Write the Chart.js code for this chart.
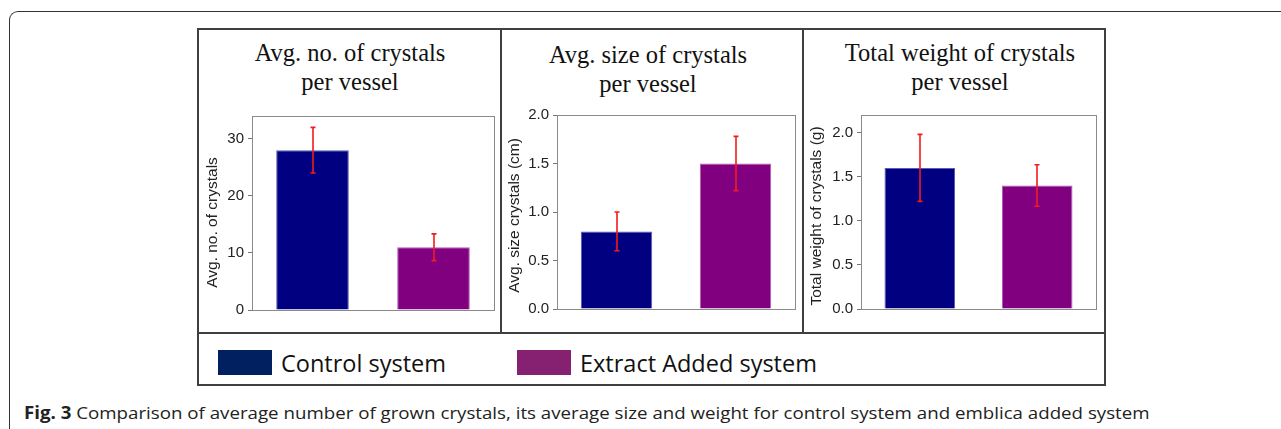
<!DOCTYPE html>
<html>
<head>
<meta charset="utf-8">
<script src="https://cdn.jsdelivr.net/npm/chart.js@4.4.1/dist/chart.umd.min.js"></script>
<style>
  html, body { margin: 0; padding: 0; background: #fff; }
  body { width: 1281px; height: 429px; position: relative; overflow: hidden; }
  .frame { position: absolute; left: 9px; top: 11px; width: 1400px; height: 500px;
           border-left: 1.5px solid #333; border-top: 1.5px solid #333; border-top-left-radius: 9px; }
  .line { position: absolute; background: #3f3f3f; }
  .ptitle { position: absolute; width: 320px; text-align: center; font-family: "Liberation Serif", "Times New Roman", serif;
            font-size: 24.5px; line-height: 29px; color: #111; }
  .legend-item { position: absolute; font-family: "Open Sans", sans-serif; font-size: 23.5px; color: #111; white-space: nowrap; }
  .swatch { position: absolute; width: 54px; height: 25px; }
  .caption { position: absolute; left: 24px; top: 404px; font-family: "Open Sans", sans-serif; font-size: 17px;
             line-height: 17px; color: #222; white-space: nowrap; transform: scaleX(1.1); transform-origin: 0 0; }
  canvas { position: absolute; }
</style>
</head>
<body>
<div class="frame"></div>

<!-- figure box -->
<div class="line" style="left:197px; top:28px; width:909px; height:2px;"></div>
<div class="line" style="left:197px; top:332px; width:909px; height:2px;"></div>
<div class="line" style="left:197px; top:384px; width:909px; height:2px;"></div>
<div class="line" style="left:197px; top:28px; width:2px; height:358px;"></div>
<div class="line" style="left:500px; top:28px; width:2px; height:305px;"></div>
<div class="line" style="left:802px; top:28px; width:2px; height:305px;"></div>
<div class="line" style="left:1104px; top:28px; width:2px; height:358px;"></div>

<div class="ptitle" style="left:190px; top:38px;">Avg. no. of crystals<br>per vessel</div>
<div class="ptitle" style="left:488px; top:40px;">Avg. size of crystals<br>per vessel</div>
<div class="ptitle" style="left:800px; top:38px;">Total weight of crystals<br>per vessel</div>

<canvas id="c1" width="301" height="302" style="left:199px; top:30px;"></canvas>
<canvas id="c2" width="300" height="302" style="left:502px; top:30px;"></canvas>
<canvas id="c3" width="300" height="302" style="left:804px; top:30px;"></canvas>

<div id="legend"></div>

<div class="caption"><b>Fig. 3</b> Comparison of average number of grown crystals, its average size and weight for control system and emblica added system</div>

<script>
// Groups shown in every panel
const categories = ['Control system', 'Extract Added system'];

// Average number of crystals per vessel (mean, ± error)
const countMeans = [28, 11];
const countErrors = [4, 2.35];

// Average size of crystals per vessel, cm
const sizeMeans = [0.8, 1.5];
const sizeErrors = [0.2, 0.28];

// Total weight of crystals per vessel, g
const weightMeans = [1.6, 1.4];
const weightErrors = [0.38, 0.235];

// Axis tick labels
const countTicks = ['0', '10', '20', '30'];
const sizeTicks = ['0.0', '0.5', '1.0', '1.5', '2.0'];
const weightTicks = ['0.0', '0.5', '1.0', '1.5', '2.0'];

const barFill = ['#000080', '#800080'];
const barEdge = ['#5a5ab4', '#b45ab4'];
const legendFill = ['#002060', '#852170'];
const axisFont = '"Liberation Sans", Arial, sans-serif';

// Red error bars with small caps, placed through the value scale
const errorBars = {
  id: 'errorBars',
  afterDatasetsDraw(chart, args, opts) {
    const ctx = chart.ctx;
    const y = chart.scales.y;
    const meta = chart.getDatasetMeta(0);
    const means = chart.data.datasets[0].data;
    ctx.save();
    ctx.strokeStyle = '#f21c1c';
    ctx.lineWidth = 1.6;
    meta.data.forEach((bar, i) => {
      const top = y.getPixelForValue(means[i] + opts.errors[i]);
      const bot = y.getPixelForValue(means[i] - opts.errors[i]);
      const x = Math.round(bar.x);
      ctx.beginPath();
      ctx.moveTo(x, top); ctx.lineTo(x, bot);
      ctx.moveTo(x - 2.5, top); ctx.lineTo(x + 2.5, top);
      ctx.moveTo(x - 2.5, bot); ctx.lineTo(x + 2.5, bot);
      ctx.stroke();
    });
    ctx.restore();
  }
};

// Grey box round the plotting area
const plotBox = {
  id: 'plotBox',
  afterDraw(chart) {
    const a = chart.chartArea;
    const ctx = chart.ctx;
    ctx.save();
    ctx.strokeStyle = '#8a8a8a';
    ctx.lineWidth = 1;
    ctx.strokeRect(Math.round(a.left) + 0.5, Math.round(a.top) + 0.5,
                   Math.round(a.right - a.left), Math.round(a.bottom - a.top));
    ctx.restore();
  }
};

// Rotated value-axis caption, set a little below the middle of the plot
const axisCaption = {
  id: 'axisCaption',
  afterDraw(chart, args, opts) {
    const a = chart.chartArea;
    const ctx = chart.ctx;
    ctx.save();
    ctx.translate(opts.x, (a.top + a.bottom) / 2 + opts.shift);
    ctx.rotate(-Math.PI / 2);
    ctx.font = '15.5px ' + axisFont;
    ctx.fillStyle = '#222';
    ctx.textAlign = 'center';
    ctx.textBaseline = 'middle';
    ctx.fillText(opts.text, 0, 0);
    ctx.restore();
  }
};

function panel(id, means, errors, tickLabels, cfg) {
  new Chart(document.getElementById(id), {
    type: 'bar',
    data: {
      labels: categories,
      datasets: [{
        data: means,
        backgroundColor: barFill,
        borderColor: barEdge,
        borderWidth: 1,
        barPercentage: 0.6,
        categoryPercentage: 1
      }]
    },
    options: {
      responsive: false,
      animation: false,
      layout: { padding: cfg.padding },
      plugins: {
        legend: { display: false },
        tooltip: { enabled: false },
        errorBars: { errors: errors },
        axisCaption: { text: cfg.title, x: cfg.titleX, shift: cfg.titleShift }
      },
      scales: {
        x: { display: false },
        y: {
          min: 0,
          max: cfg.max,
          ticks: {
            stepSize: cfg.step,
            includeBounds: false,
            padding: 4,
            color: '#222',
            font: { family: axisFont, size: 15 },
            callback: (v, i) => tickLabels[i]
          },
          grid: { drawOnChartArea: false, drawTicks: true, tickLength: 4, color: '#777' },
          border: { display: false },
          afterFit(scale) { scale.width = cfg.axisWidth; }
        }
      }
    },
    plugins: [errorBars, plotBox, axisCaption]
  });
}

panel('c1', countMeans, countErrors, countTicks, {
  max: 34, step: 10, title: 'Avg. no. of crystals', titleX: 13.5, titleShift: 9.5, axisWidth: 53,
  padding: { left: 0, right: 6, top: 86, bottom: 22 }
});
panel('c2', sizeMeans, sizeErrors, sizeTicks, {
  max: 2.0, step: 0.5, title: 'Avg. size crystals (cm)', titleX: 13, titleShift: 3.5, axisWidth: 55,
  padding: { left: 0, right: 7, top: 85, bottom: 23 }
});
panel('c3', weightMeans, weightErrors, weightTicks, {
  max: 2.2, step: 0.5, title: 'Total weight of crystals (g)', titleX: 13, titleShift: 4, axisWidth: 57,
  padding: { left: 0, right: 8, top: 85, bottom: 23 }
});

// Legend row under the panels
const legend = document.getElementById('legend');
const legendX = [218, 517];
categories.forEach((name, i) => {
  const sw = document.createElement('div');
  sw.className = 'swatch';
  sw.style.left = legendX[i] + 'px';
  sw.style.top = '350px';
  sw.style.background = legendFill[i];
  legend.appendChild(sw);
  const tx = document.createElement('div');
  tx.className = 'legend-item';
  tx.style.left = (legendX[i] + 63) + 'px';
  tx.style.top = '347px';
  tx.textContent = name;
  legend.appendChild(tx);
});
</script>
</body>
</html>
